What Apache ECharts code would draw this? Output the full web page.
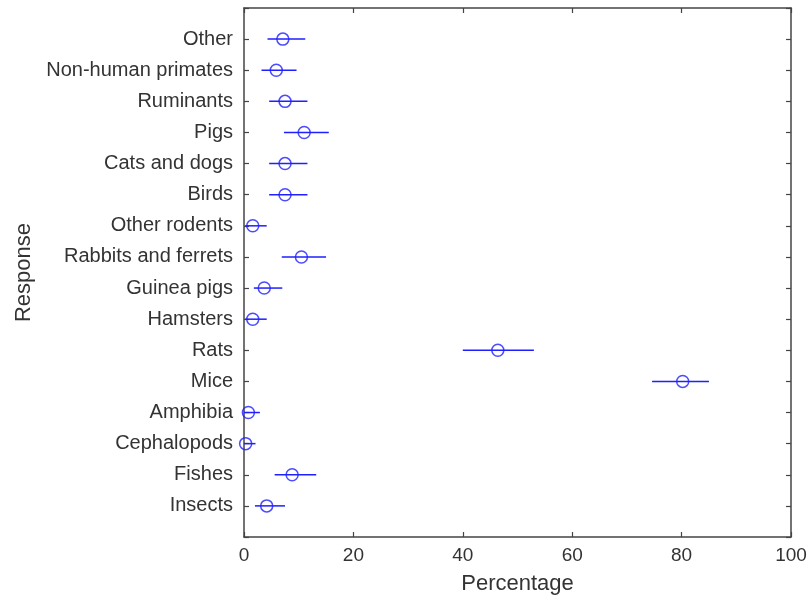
<!DOCTYPE html>
<html>
<head>
<meta charset="utf-8">
<script src="https://cdn.jsdelivr.net/npm/echarts@6/dist/echarts.min.js"></script>
<style>
  html, body { margin: 0; padding: 0; background: #fff; }
  #chart { width: 810px; height: 604px; }
</style>
</head>
<body>
<div id="chart"></div>
<script>
// Response categories, listed bottom to top (y positions 1..16)
const categories = [
  'Insects', 'Fishes', 'Cephalopods', 'Amphibia', 'Mice', 'Rats',
  'Hamsters', 'Guinea pigs', 'Rabbits and ferrets', 'Other rodents',
  'Birds', 'Cats and dogs', 'Pigs', 'Ruminants', 'Non-human primates', 'Other'
];
// Point estimate (%) and interval bounds for each category
const estimate = [4.15, 8.8, 0.3, 0.8, 80.2, 46.4, 1.6, 3.7, 10.5, 1.6, 7.5, 7.5, 11.0, 7.5, 5.9, 7.1];
const lower    = [2.0, 5.6, 0.0, 0.0, 74.6, 40.0, 0.2, 1.8, 6.9, 0.2, 4.6, 4.6, 7.3, 4.6, 3.2, 4.3];
const upper    = [7.5, 13.2, 2.1, 2.9, 85.0, 53.0, 4.15, 7.0, 15.0, 4.15, 11.6, 11.6, 15.5, 11.6, 9.6, 11.2];
const xTicks = [0, 20, 40, 60, 80, 100];

const blue = '#1f1fff';
const ink = '#333333';
const axisColor = '#444444';
const font = 'Liberation Sans, Arial, Helvetica, sans-serif';

const points = categories.map((c, i) => [estimate[i], i + 1]);
const bars = categories.map((c, i) => [lower[i], upper[i], i + 1]);

const chart = echarts.init(document.getElementById('chart'), null, { renderer: 'canvas' });

const tickStyle = { show: true, inside: true, length: 5, lineStyle: { color: axisColor, width: 1.2 } };
const lineStyle = { show: true, onZero: false, lineStyle: { color: axisColor, width: 1.5 } };

chart.setOption({
  animation: false,
  backgroundColor: '#ffffff',
  grid: { left: 244, right: 19, top: 8, bottom: 67, containLabel: false, outerBoundsMode: 'none' },
  xAxis: [
    {
      type: 'value', min: xTicks[0], max: xTicks[xTicks.length - 1], interval: 20,
      position: 'bottom',
      name: 'Percentage', nameLocation: 'middle', nameGap: 36,
      nameTextStyle: { color: ink, fontSize: 22, fontFamily: font },
      axisLine: lineStyle, axisTick: tickStyle,
      axisLabel: { color: ink, fontSize: 19, fontFamily: font, margin: 9 },
      splitLine: { show: false }
    },
    {
      type: 'value', min: xTicks[0], max: xTicks[xTicks.length - 1], interval: 20,
      position: 'top',
      axisLine: lineStyle, axisTick: tickStyle,
      axisLabel: { show: false }, splitLine: { show: false }
    }
  ],
  yAxis: [
    {
      type: 'value', min: 0, max: categories.length + 1, interval: 1,
      position: 'left',
      name: 'Response', nameLocation: 'middle', nameGap: 209, nameRotate: 90,
      nameTextStyle: { color: ink, fontSize: 22, fontFamily: font },
      axisLine: lineStyle, axisTick: tickStyle,
      axisLabel: {
        color: ink, fontSize: 20, fontFamily: font, margin: 11,
        formatter: v => categories[v - 1] || ''
      },
      splitLine: { show: false }
    },
    {
      type: 'value', min: 0, max: categories.length + 1, interval: 1,
      position: 'right',
      axisLine: lineStyle, axisTick: tickStyle,
      axisLabel: { show: false }, splitLine: { show: false }
    }
  ],
  series: [
    {
      type: 'custom',
      data: bars,
      encode: { x: [0, 1], y: 2 },
      renderItem: (params, api) => {
        const a = api.coord([api.value(0), api.value(2)]);
        const b = api.coord([api.value(1), api.value(2)]);
        return {
          type: 'line',
          shape: { x1: a[0], y1: a[1], x2: b[0], y2: b[1] },
          style: { stroke: blue, lineWidth: 1.5 }
        };
      },
      z: 2
    },
    {
      type: 'scatter',
      data: points,
      symbol: 'circle',
      symbolSize: 12,
      itemStyle: { color: 'rgba(0,0,0,0)', borderColor: blue, borderWidth: 1.5 },
      emphasis: { disabled: true },
      z: 3
    }
  ]
});
</script>
</body>
</html>
